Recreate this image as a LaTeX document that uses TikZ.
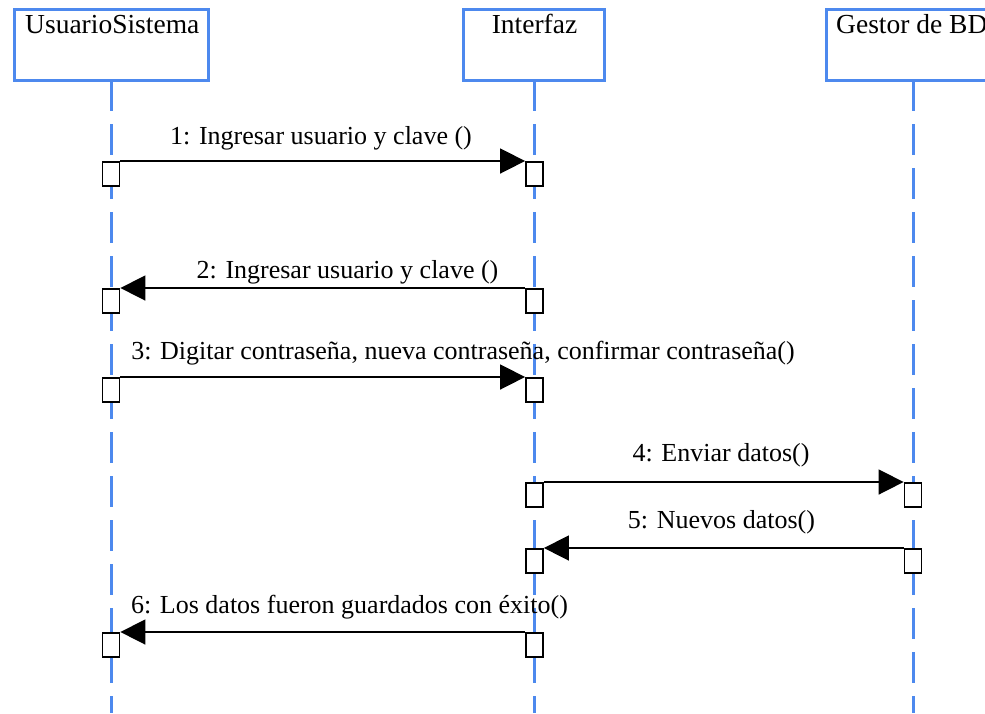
\documentclass[tikz,border=0pt]{standalone}
\usepackage{fontspec}
\setmainfont{Liberation Serif}
\usetikzlibrary{arrows.meta}
\definecolor{lineblue}{RGB}{77,137,238}
\begin{document}
\begin{tikzpicture}[x=1pt,y=-1pt,
  every node/.style={font=\fontsize{26}{30}\selectfont, inner sep=0pt},
  header/.style={draw=lineblue, line width=3pt, fill=white},
  headtext/.style={font=\fontsize{27.5}{31}\selectfont},
  lifeline/.style={draw=lineblue, line width=3pt, dash pattern=on 31pt off 13pt},
  actbox/.style={draw=black, fill=white, line width=1.8pt, minimum width=17pt, minimum height=24pt, anchor=north},
  msg/.style={draw=black, line width=1.6pt, -{Triangle[length=25pt,width=25pt]}},
  lbl/.style={anchor=base}]
\useasboundingbox (0,0) rectangle (985,713);
\clip (0,0) rectangle (985,713);

% participant heads
\draw[header] (14,9) rectangle (208,80);
\draw[header] (463,9) rectangle (604,80);
\draw[header] (826,9) rectangle (1010,80);
\node[headtext, anchor=base west] (hU) at (25,33) {UsuarioSistema};
\node[headtext, anchor=base] (hI) at (534.5,33) {Interfaz};
\node[headtext, anchor=base west] (hG) at (836,33) {Gestor de BD};

% lifelines
\coordinate (uTop) at (111,80);  \coordinate (uBot) at (111,713);
\coordinate (iTop) at (534.5,80); \coordinate (iBot) at (534.5,713);
\coordinate (gTop) at (913,80);  \coordinate (gBot) at (913,713);
\draw[lifeline] (uTop) -- (uBot);
\draw[lifeline] (iTop) -- (iBot);
\draw[lifeline] (gTop) -- (gBot);

% activation boxes
\node[actbox] (u1) at (111,161) {};
\node[actbox] (i1) at (534.5,161) {};
\node[actbox] (i2) at (534.5,288) {};
\node[actbox] (u2) at (111,288) {};
\node[actbox] (u3) at (111,377) {};
\node[actbox] (i3) at (534.5,377) {};
\node[actbox] (i4) at (534.5,482) {};
\node[actbox] (g4) at (913,482) {};
\node[actbox] (g5) at (913,548) {};
\node[actbox] (i5) at (534.5,548) {};
\node[actbox] (i6) at (534.5,632) {};
\node[actbox] (u6) at (111,632) {};

% messages
\draw[msg] (u1.north east) -- (i1.north west);
\draw[msg] (i2.north west) -- (u2.north east);
\draw[msg] (u3.north east) -- (i3.north west);
\draw[msg] (i4.north east) -- (g4.north west);
\draw[msg] (g5.north west) -- (i5.north east);
\draw[msg] (i6.north west) -- (u6.north east);

% message labels
\node[lbl] (m1) at (321,144) {1: Ingresar usuario y clave ()};
\node[lbl] (m2) at (347.5,278) {2: Ingresar usuario y clave ()};
\node[lbl] (m3) at (463,359) {3: Digitar contraseña, nueva contraseña, confirmar contraseña()};
\node[lbl] (m4) at (721,461) {4: Enviar datos()};
\node[lbl] (m5) at (721.5,528) {5: Nuevos datos()};
\node[lbl] (m6) at (349.5,613) {6: Los datos fueron guardados con éxito()};
\end{tikzpicture}
\end{document}
